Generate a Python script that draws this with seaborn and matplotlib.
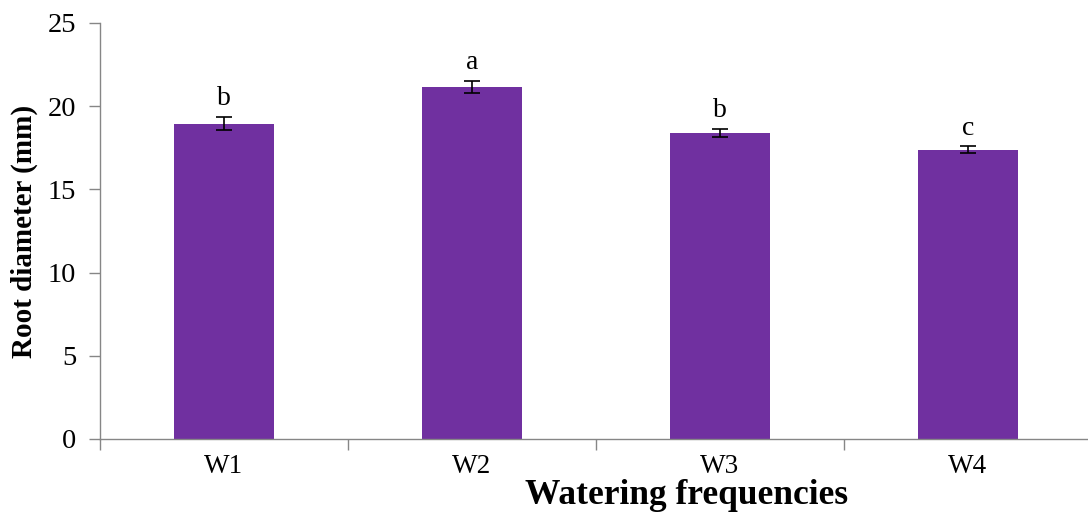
import matplotlib
matplotlib.use("Agg")
import matplotlib.pyplot as plt
import seaborn as sns
import pandas as pd
import numpy as np
from matplotlib.ticker import FixedLocator

categories = ["W1", "W2", "W3", "W4"]
values = [18.95, 21.15, 18.38, 17.38]
errors = [0.40, 0.35, 0.24, 0.20]
letters = ["b", "a", "b", "c"]

sns.set_theme(style="white")
plt.rcParams['font.family'] = ['Liberation Serif', 'DejaVu Serif']
plt.rcParams['text.color'] = 'black'
plt.rcParams['axes.labelcolor'] = 'black'
plt.rcParams['xtick.color'] = 'black'
plt.rcParams['ytick.color'] = 'black'

df = pd.DataFrame({"cat": categories, "val": values})

fig = plt.figure(figsize=(10.88, 5.22), dpi=100)
ax = fig.add_axes([100/1088, 1 - 439/522, 992/1088, (439 - 23)/522])

sns.barplot(data=df, x="cat", y="val", color="#7030A0", saturation=1,
            width=0.4, errorbar=None, ax=ax)
for p in ax.patches:
    p.set_edgecolor("none")

xs = np.arange(len(categories))
ax.errorbar(xs, values, yerr=errors, fmt="none", ecolor="black",
            elinewidth=1.2, capsize=6, capthick=1.2)
for x, v, e, t in zip(xs, values, errors, letters):
    ax.text(x, v + e + 0.35, t, ha="center", va="bottom", fontsize=20)

ax.set_xlim(-0.5, len(categories) - 0.5)
ax.set_ylim(0, 25)
ax.set_yticks([0, 5, 10, 15, 20, 25])
ax.tick_params(axis="y", labelsize=20.5, length=8, width=1, color="#868686",
               labelcolor="black", direction="out", left=True, pad=9)
ax.tick_params(axis="x", which="major", labelsize=19.5, length=0, pad=11,
               labelcolor="black")
ax.xaxis.set_minor_locator(FixedLocator(np.arange(-0.5, len(categories), 1.0)))
ax.tick_params(axis="x", which="minor", length=8, width=1, color="#868686",
               direction="out", bottom=True)

for s in ["top", "right"]:
    ax.spines[s].set_visible(False)
for s in ["left", "bottom"]:
    ax.spines[s].set_color("#868686")
    ax.spines[s].set_linewidth(1)

ax.set_xlabel("Watering frequencies", fontsize=25.5, fontweight="bold",
              color="black")
ax.xaxis.set_label_coords((687 - 100) / 992, (439 - 479) / 416)
ax.set_ylabel("Root diameter (mm)", fontsize=21, fontweight="bold",
              color="black")
ax.yaxis.set_label_coords((38 - 100) / 992, 0.5)
ax.grid(False)

fig.savefig("out.png", dpi=100)
